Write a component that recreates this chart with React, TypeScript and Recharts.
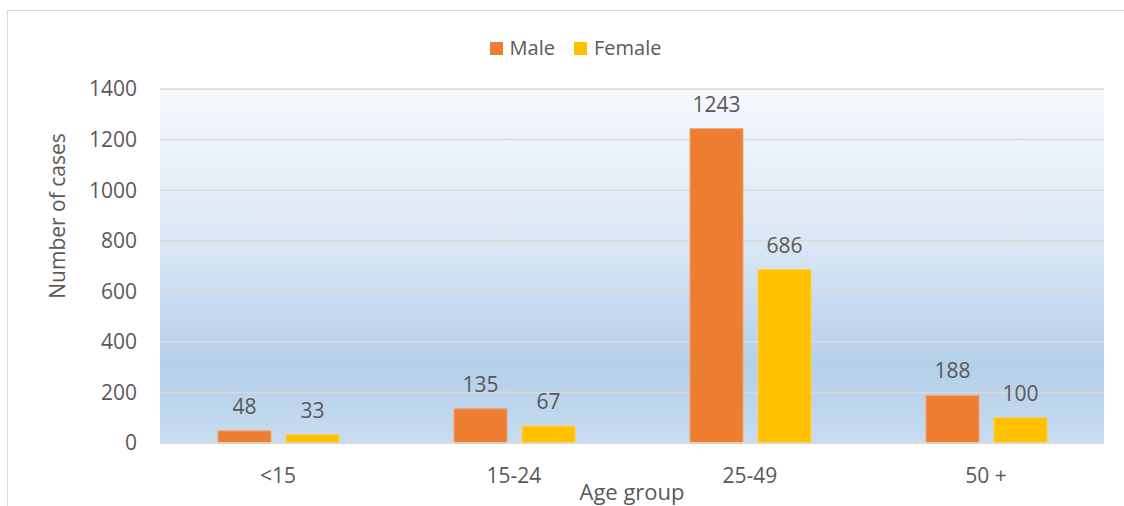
import { BarChart, Bar, XAxis, YAxis, CartesianGrid, Legend, LabelList, Label } from 'recharts';

const ageGroups = ['<15', '15-24', '25-49', '50 +'];
const maleCases = [48, 135, 1243, 188];
const femaleCases = [33, 67, 686, 100];
const yTicks = [0, 200, 400, 600, 800, 1000, 1200, 1400];

const data = ageGroups.map((group, i) => ({
  group,
  male: maleCases[i],
  female: femaleCases[i],
}));

const textColor = '#595959';
const font = '"Open Sans", "Noto Sans", sans-serif';

function LegendContent() {
  const items = [
    { name: 'Male', color: '#ED7D31' },
    { name: 'Female', color: '#FFC000' },
  ];
  return (
    <div style={{ display: 'flex', justifyContent: 'center', alignItems: 'center', fontSize: 20, lineHeight: '26px', color: textColor }}>
      {items.map((it) => (
        <div key={it.name} style={{ display: 'flex', alignItems: 'center', marginRight: 19 }}>
          <span style={{ width: 13, height: 13, background: it.color, display: 'inline-block', marginRight: 7 }} />
          <span>{it.name}</span>
        </div>
      ))}
    </div>
  );
}

export default function App() {
  return (
    <div style={{ position: 'absolute', left: 0, top: 0, width: 1124, height: 506, overflow: 'hidden', background: '#fff', fontFamily: font }}>
      <div style={{ position: 'absolute', left: 7, top: 10, width: 1140, height: 520, border: '1px solid #d9d9d9' }} />
      <BarChart
        width={1124}
        height={506}
        data={data}
        margin={{ top: 63, right: 20, bottom: 0, left: 0 }}
        barGap={15}
        barSize={53}
        style={{ position: 'absolute', left: 0, top: 0 }}
      >
        <defs>
          <linearGradient id="plotBg" x1="0" y1="0" x2="0" y2="1">
            <stop offset="0%" stopColor="#f6f9fd" />
            <stop offset="45%" stopColor="#d9e6f4" />
            <stop offset="78%" stopColor="#b3cfe9" />
            <stop offset="100%" stopColor="#c7dcf0" />
          </linearGradient>
        </defs>
        <CartesianGrid vertical={false} stroke="#d9d9d9" strokeWidth={1.5} fill="url(#plotBg)" fillOpacity={1} />
        <XAxis
          dataKey="group"
          height={63}
          tickLine={false}
          axisLine={{ stroke: '#d9d9d9', strokeWidth: 1.5 }}
          tickSize={0}
          tickMargin={25}
          tick={{ fill: textColor, fontSize: 21 }}
        >
          <Label
            content={({ viewBox }: any) => (
              <text
                x={viewBox.x + viewBox.width / 2}
                y={viewBox.y + 57}
                textAnchor="middle"
                fill={textColor}
                fontSize={22}
              >
                Age group
              </text>
            )}
          />
        </XAxis>
        <YAxis
          width={160}
          domain={[0, 1400]}
          ticks={yTicks}
          tickLine={false}
          axisLine={false}
          tickSize={0}
          tickMargin={23}
          tick={{ fill: textColor, fontSize: 21 }}
        >
          <Label
            content={({ viewBox }: any) => {
              const cx = viewBox.x + 57;
              const cy = viewBox.y + viewBox.height / 2 - 50;
              return (
                <text
                  x={cx}
                  y={cy}
                  textAnchor="middle"
                  dominantBaseline="central"
                  fill={textColor}
                  fontSize={21}
                  transform={`rotate(-90 ${cx} ${cy})`}
                >
                  Number of cases
                </text>
              );
            }}
          />
        </YAxis>
        <Legend
          verticalAlign="top"
          content={<LegendContent />}
          wrapperStyle={{ top: 35, left: 0, width: 1170 }}
        />
        <Bar dataKey="male" name="Male" fill="#ED7D31" stroke="#f3a56f" strokeWidth={1} isAnimationActive={false}>
          <LabelList dataKey="male" position="top" offset={17} fill={textColor} fontSize={21} />
        </Bar>
        <Bar dataKey="female" name="Female" fill="#FFC000" stroke="#ffd24d" strokeWidth={1} isAnimationActive={false}>
          <LabelList dataKey="female" position="top" offset={17} fill={textColor} fontSize={21} />
        </Bar>
      </BarChart>
    </div>
  );
}
